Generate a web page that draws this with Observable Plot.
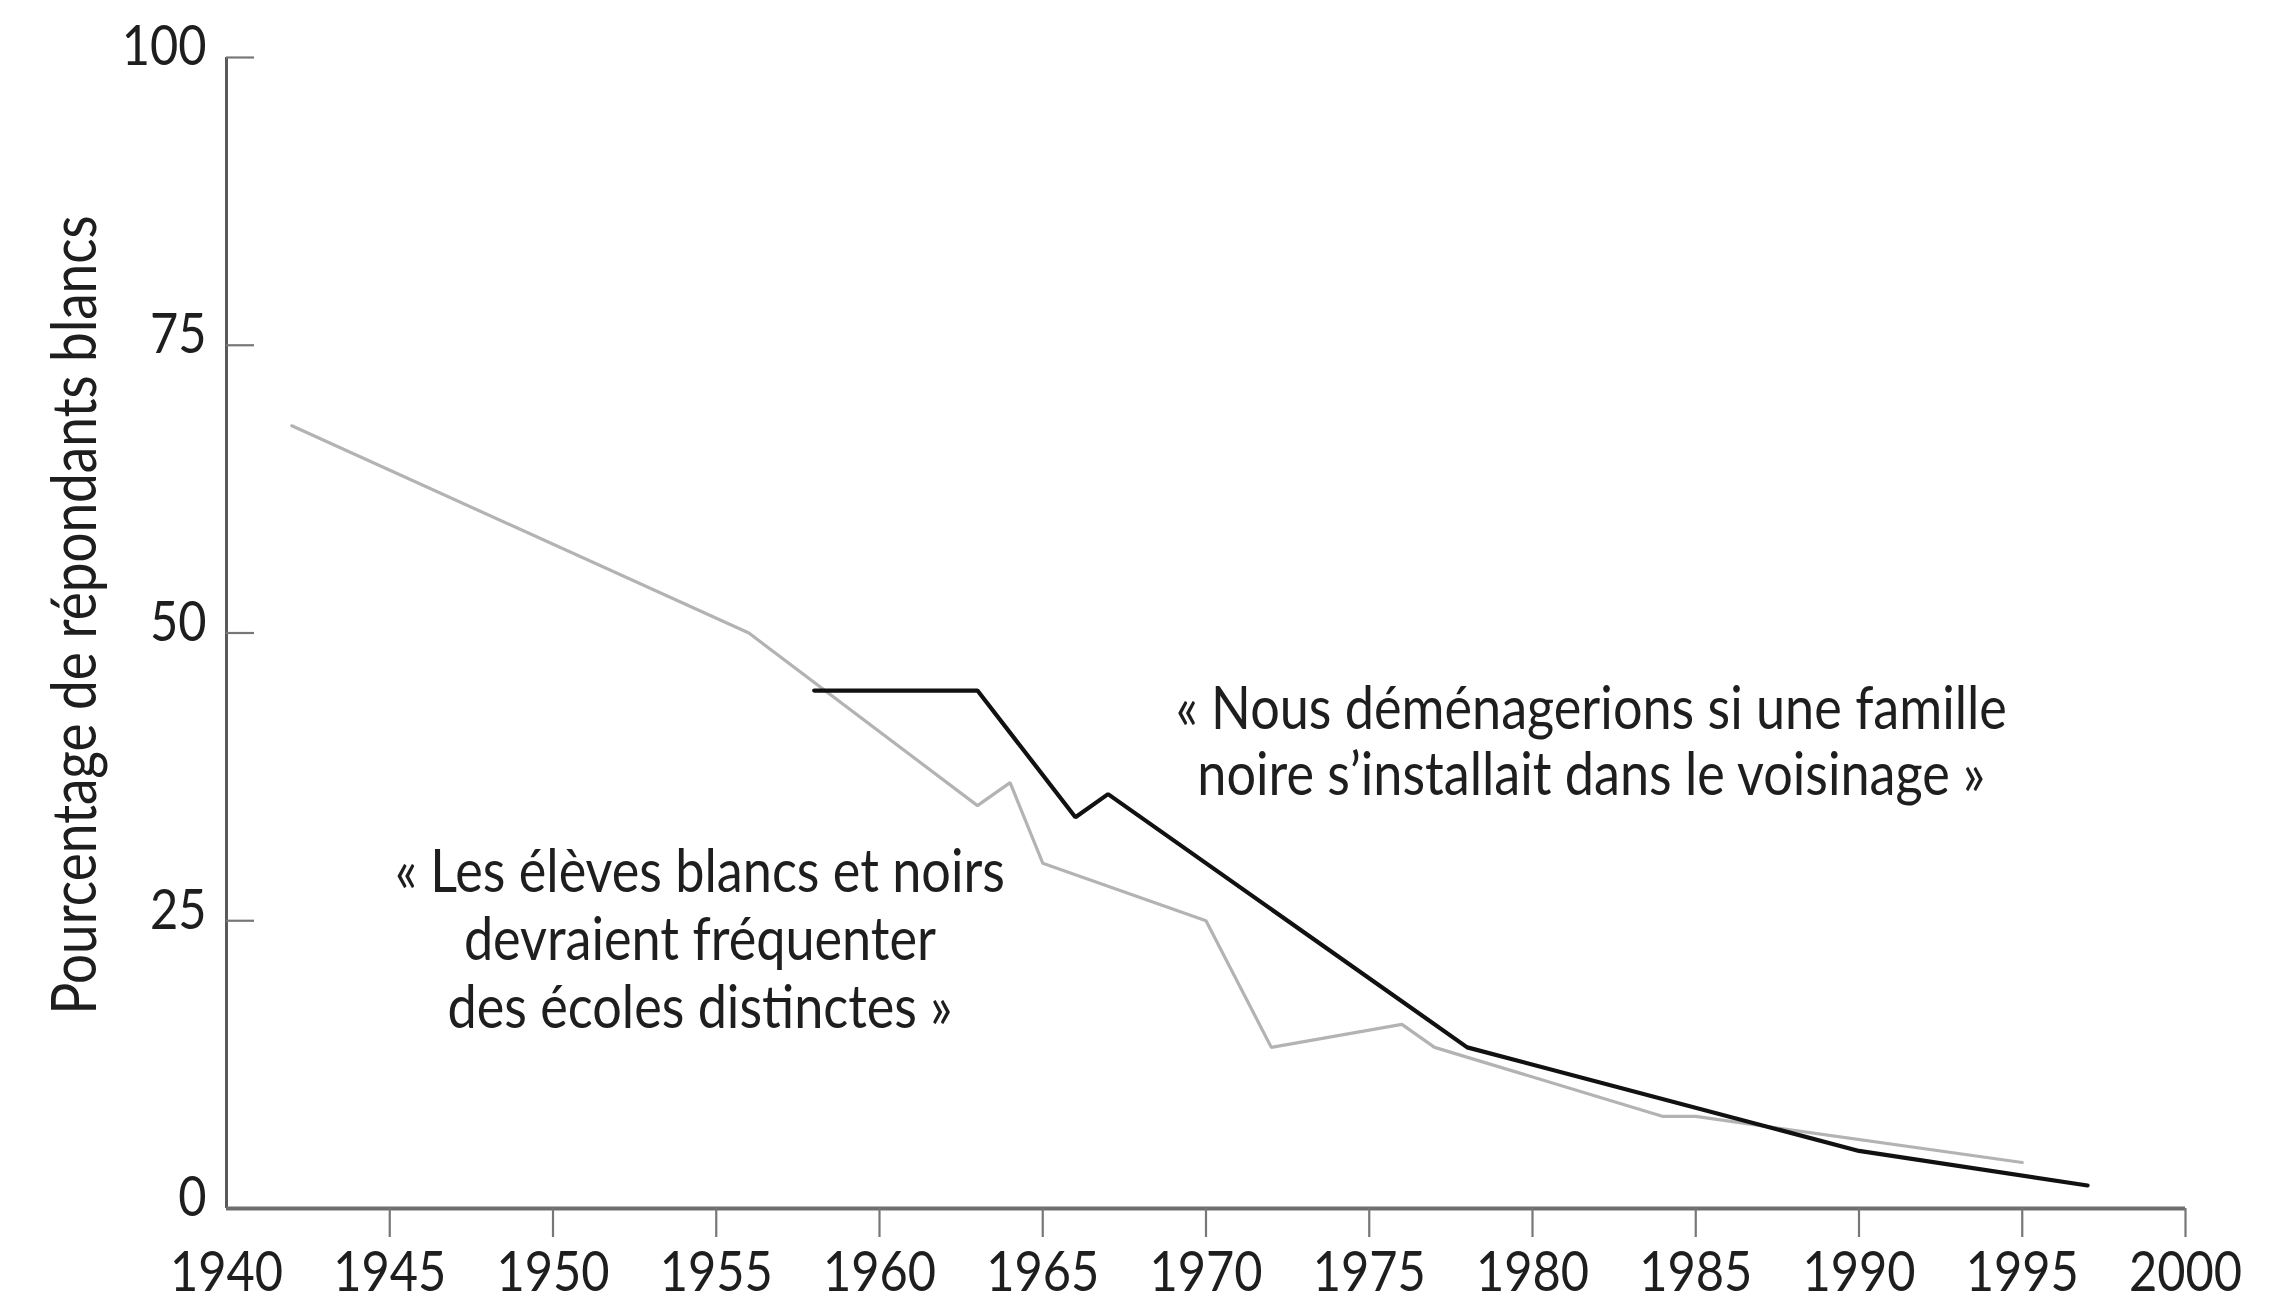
<!DOCTYPE html>
<html>
<head>
<meta charset="utf-8">
<script src="https://cdn.jsdelivr.net/npm/d3@7"></script>
<script src="https://cdn.jsdelivr.net/npm/@observablehq/plot@0.6"></script>
<style>
  html, body { margin: 0; padding: 0; background: #fff; }
  #chart { width: 2285px; height: 1306px; }
</style>
</head>
<body>
<div id="chart"></div>
<script>
// Series: « Les élèves blancs et noirs devraient fréquenter des écoles distinctes »
const schoolYears  = [1942, 1956, 1963, 1964, 1965, 1970, 1972, 1976, 1977, 1984, 1985, 1995];
const schoolValues = [68,   50,   35,   37,   30,   25,   14,   16,   14,   8,    8,    4];

// Series: « Nous déménagerions si une famille noire s'installait dans le voisinage »
const moveYears  = [1958, 1963, 1966, 1967, 1978, 1990, 1997];
const moveValues = [45,   45,   34,   36,   14,   5,    2];

// Axis ticks
const xTickLabels = [1940, 1945, 1950, 1955, 1960, 1965, 1970, 1975, 1980, 1985, 1990, 1995, 2000];
const xTickMarks  = [1945, 1950, 1955, 1960, 1965, 1970, 1975, 1980, 1985, 1990, 1995, 2000];
const yTickLabels = [0, 25, 50, 75, 100];
const yTickMarks  = [25, 50, 75, 100];

const yLabel = "Pourcentage de répondants blancs";

// Annotations (label texts placed in data space)
const annoText = [
  "«\u202FNous déménagerions si une famille\nnoire s’installait dans le voisinage\u202F»",
  "«\u202FLes élèves blancs et noirs\ndevraient fréquenter\ndes écoles distinctes\u202F»"
];
const annoX = [1981.8, 1954.5];
const annoY = [40.6, 23.5];
const annoLineHeight = [1.1, 1.13];

const school = schoolYears.map((x, i) => ({x, y: schoolValues[i]}));
const move = moveYears.map((x, i) => ({x, y: moveValues[i]}));
const annotations = annoText.map((text, i) => ({text, x: annoX[i], y: annoY[i]}));

const FONT = "Lato, 'Open Sans', sans-serif";
const INK = "#1e1e1e";

const chart = Plot.plot({
  width: 2285,
  height: 1306,
  marginLeft: 226,
  marginRight: 100,
  marginTop: 57,
  marginBottom: 98,
  style: {background: "#fff", fontFamily: FONT},
  x: {domain: [1940, 2000], axis: null},
  y: {domain: [0, 100], axis: null},
  marks: [
    // axis lines
    Plot.ruleX([1940], {stroke: "#5a5a5a", strokeWidth: 3}),
    Plot.ruleY([0], {stroke: "#6e6e6e", strokeWidth: 4}),
    // tick marks
    Plot.axisX(xTickMarks, {anchor: "bottom", tickSize: 29, fill: "none", stroke: "#777", strokeWidth: 2.2}),
    Plot.axisY(yTickMarks, {anchor: "left", tickSize: -28, fill: "none", stroke: "#777", strokeWidth: 2.2}),
    // tick labels
    Plot.text(xTickLabels, {x: d => d, frameAnchor: "bottom", dy: 65, lineAnchor: "middle", textAnchor: "middle", text: d => String(d), fontSize: 56, fill: INK}),
    Plot.text(yTickLabels, {y: d => d, frameAnchor: "left", dx: -20, dy: -10, textAnchor: "end", lineAnchor: "middle", text: d => String(d), fontSize: 56, fill: INK}),
    // y axis title
    Plot.text([yLabel], {frameAnchor: "left", dx: -150, dy: -18, rotate: -90, textAnchor: "middle", lineAnchor: "middle", text: d => d, fontSize: 61, fill: INK}),
    // data lines
    Plot.line(school, {x: "x", y: "y", stroke: "#b3b3b3", strokeWidth: 3.2, strokeLinejoin: "miter"}),
    Plot.line(move, {x: "x", y: "y", stroke: "#111", strokeWidth: 4.2, strokeLinejoin: "miter"}),
    // annotations
    Plot.text(annotations.slice(0, 1), {x: "x", y: "y", text: "text", fontSize: 60, lineHeight: annoLineHeight[0], fill: INK, lineAnchor: "middle", textAnchor: "middle"}),
    Plot.text(annotations.slice(1), {x: "x", y: "y", text: "text", fontSize: 60, lineHeight: annoLineHeight[1], fill: INK, lineAnchor: "middle", textAnchor: "middle"})
  ]
});

// slightly condensed lettering, as in the original typeface
chart.querySelectorAll("text").forEach(t => {
  const tr = t.getAttribute("transform") || "";
  t.setAttribute("transform", (tr + " scale(0.87,1)").trim());
});

document.getElementById("chart").appendChild(chart);
</script>
</body>
</html>
